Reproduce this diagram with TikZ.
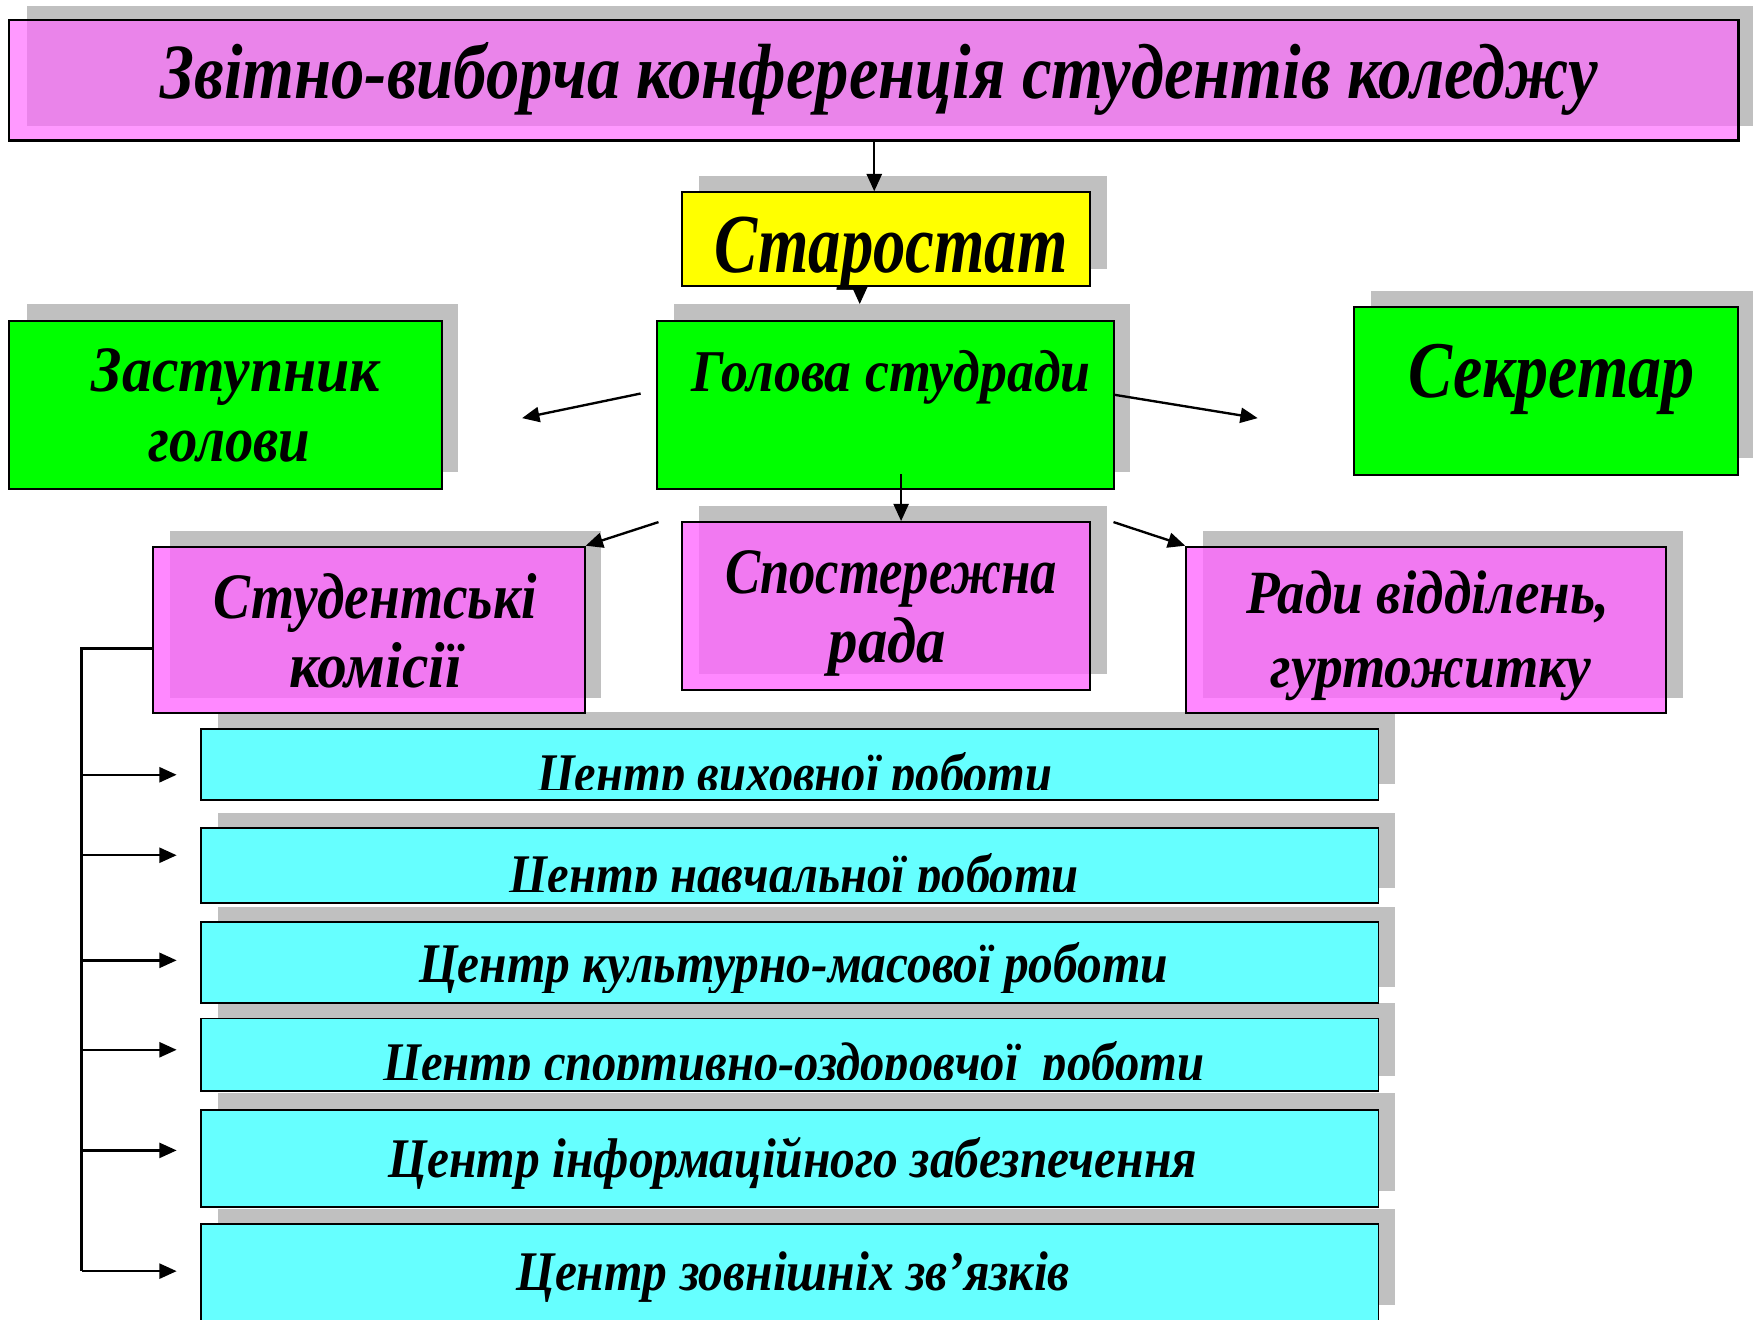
\documentclass[tikz,border=0pt]{standalone}
\usepackage{fontspec}
\setmainfont{Liberation Serif}
\usepackage{graphicx}
\usetikzlibrary{arrows.meta,fit}

\definecolor{shd}{HTML}{C0C0C0}
\definecolor{pinkc}{HTML}{FF66FF}
\definecolor{greenc}{HTML}{00FF00}
\definecolor{yellowc}{HTML}{FFFF00}
\definecolor{cyanc}{HTML}{66FFFF}

\newsavebox\fitbox
% #1 font em in picture px, #2 target width in picture px, #3 text
\newcommand\fitt[3]{%
  \begingroup
  \fontsize{\fpeval{#1*0.28453}pt}{\fpeval{#1*0.34}pt}\selectfont
  \sbox\fitbox{#3}%
  \pgfmathsetmacro\sxf{#2*0.28453/\the\wd\fitbox}%
  \scalebox{\sxf}[1]{\usebox\fitbox}%
  \endgroup}

\begin{document}
\begin{tikzpicture}[x=0.1mm,y=-0.1mm,
  shadowbox/.style={fill=shd, draw=none},
  box/.style={draw=black, line width=0.5pt, inner sep=0pt},
  lbl/.style={anchor=base, inner sep=0pt, font=\bfseries\itshape},
  conn/.style={line width=0.6pt, -{Triangle[length=1.55mm,width=1.35mm]}},
  plainline/.style={line width=0.6pt}]
\useasboundingbox (0,0) rectangle (1568,1180);
\clip (0,0) rectangle (1568,1180);

% ---------- shadows ----------
\fill[shadowbox] (24,5) rectangle (1571,113);
\fill[shadowbox] (625,157) rectangle (990,241);
\fill[shadowbox] (603,272) rectangle (1011,422);
\fill[shadowbox] (24,272) rectangle (410,422);
\fill[shadowbox] (1226,260) rectangle (1570,410);
\fill[shadowbox] (152,475) rectangle (538,624);
\fill[shadowbox] (625,453) rectangle (990,603);
\fill[shadowbox] (1076,475) rectangle (1505,624);
\fill[shadowbox] (195,637) rectangle (1248,701);
\fill[shadowbox] (195,727) rectangle (1248,794);
\fill[shadowbox] (195,811) rectangle (1248,883);
\fill[shadowbox] (195,897) rectangle (1248,962);
\fill[shadowbox] (195,978) rectangle (1248,1065);
\fill[shadowbox] (195,1081) rectangle (1248,1167);

% ---------- boxes ----------
\node[box, line width=0.7pt, fill=pinkc, fill opacity=0.667, fit={(8,18) (1555,126)}] (title) {};
\node[box, fill=yellowc, fit={(610,172) (975,256)}] (staro) {};
\node[box, fill=greenc, fit={(588,287) (996,437)}] (holova) {};
\node[box, fill=greenc, fit={(8,287) (395,437)}] (zast) {};
\node[box, fill=greenc, fit={(1211,275) (1555,425)}] (sekr) {};
\node[box, fill=pinkc, fill opacity=0.78, fit={(137,489) (523,638)}] (stud) {};
\node[box, fill=pinkc, fill opacity=0.78, fit={(610,467) (975,617)}] (spost) {};
\node[box, fill=pinkc, fill opacity=0.78, fit={(1061,489) (1490,638)}] (rady) {};
\node[box, fill=cyanc, fit={(180,652) (1233,716)}] (c1) {};
\node[box, fill=cyanc, fit={(180,741) (1233,808)}] (c2) {};
\node[box, fill=cyanc, fit={(180,825) (1233,897)}] (c3) {};
\node[box, fill=cyanc, fit={(180,911) (1233,976)}] (c4) {};
\node[box, fill=cyanc, fit={(180,993) (1233,1080)}] (c5) {};
\node[box, fill=cyanc, fit={(180,1095) (1233,1182)}] (c6) {};

% ---------- texts ----------
\node[lbl] (titlet) at (786.7,88) {\fitt{70}{1286}{Звітно-виборча конференція студентів коледжу}};
\node[lbl] (starot) at (797,244) {\fitt{75}{316}{Старостат}};
\node[lbl] (holovat) at (797,350) {\fitt{53}{357}{Голова студради}};
\node[lbl] (zast1) at (211,350) {\fitt{58}{258}{Заступник}};
\node[lbl] (zast2) at (205,413) {\fitt{58}{145}{голови}};
\node[lbl] (sekrt) at (1388,356) {\fitt{72}{256}{Секретар}};
\node[lbl] (stud1) at (335.5,553) {\fitt{58}{289}{Студентські}};
\node[lbl] (stud2) at (336,615) {\fitt{58}{154}{комісії}};
\node[lbl] (spost1) at (797,531) {\fitt{58}{297}{Спостережна}};
\node[lbl] (spost2) at (794,593) {\fitt{58}{105}{рада}};
\node[lbl] (rady1) at (1277,549) {\fitt{55}{325}{Ради відділень,}};
\node[lbl] (rady2) at (1280,615) {\fitt{55}{287}{гуртожитку}};

\begin{scope}
  \clip (180,652) rectangle (1233,706);
  \node[lbl] (c1t) at (711,709) {\fitt{50}{461}{Центр виховної роботи}};
\end{scope}
\begin{scope}
  \clip (180,741) rectangle (1233,797.5);
  \node[lbl] (c2t) at (710.6,799) {\fitt{50}{509}{Центр навчальної роботи}};
\end{scope}
\begin{scope}
  \clip (180,825) rectangle (1233,887.5);
  \node[lbl] (c3t) at (710,879) {\fitt{50}{670}{Центр культурно-масової роботи}};
\end{scope}
\begin{scope}
  \clip (180,911) rectangle (1233,966);
  \node[lbl] (c4t) at (710,967) {\fitt{50}{734}{Центр спортивно-оздоровчої~ роботи}};
\end{scope}
\node[lbl] (c5t) at (709.4,1053) {\fitt{50}{723}{Центр інформаційного забезпечення}};
\node[lbl] (c6t) at (709.5,1154) {\fitt{50}{495}{Центр зовнішніх зв’язків}};

% ---------- connectors ----------
\coordinate (v1) at (782,0);
\draw[conn] (title.south -| v1) -- (staro.north -| v1);
\coordinate (v2a) at (769,256);
\coordinate (v2b) at (769,272);
\draw[conn] (v2a) -- (v2b);
\coordinate (hzA) at (573,352);
\coordinate (hzB) at (467,374);
\draw[conn] (hzA) -- (hzB);
\coordinate (hsA) at (996,353);
\coordinate (hsB) at (1125,374);
\draw[conn] (hsA) -- (hsB);
\coordinate (hpA) at (806,424);
\draw[conn] (hpA) -- (spost.north -| hpA);
\coordinate (hkA) at (589,467);
\draw[conn] (hkA) -- (stud.north east);
\coordinate (hrA) at (996,467);
\draw[conn] (hrA) -- (rady.north west);

% bracket from Студентські комісії
\coordinate (sk) at (137,580);
\coordinate (brtop) at (73,580);
\coordinate (brbot) at (73,1137);
\draw[plainline] (sk) -- (brtop) -- (brbot);
\foreach \yy/\nm in {693/c1,765/c2,859/c3,939/c4,1029/c5,1137/c6}{
  \coordinate (s\nm) at (73,\yy);
  \coordinate (e\nm) at (158,\yy);
  \draw[conn] (s\nm) -- (e\nm);
}
\end{tikzpicture}
\end{document}
